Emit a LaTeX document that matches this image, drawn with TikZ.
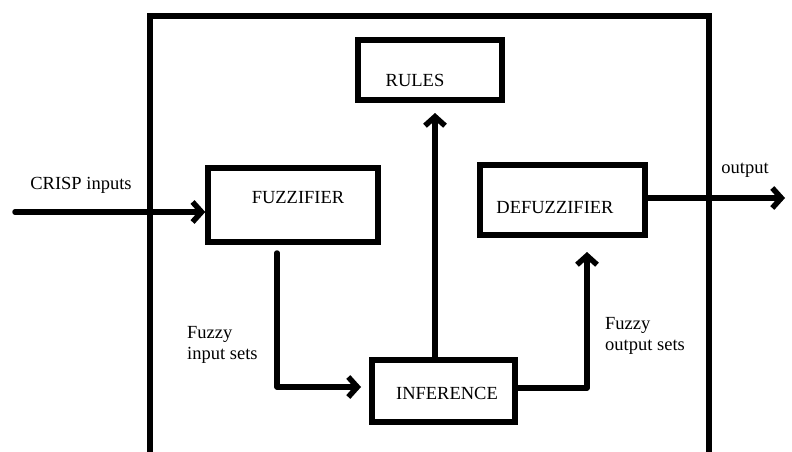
\documentclass[tikz,border=0pt]{standalone}
\usepackage{fontspec}
\setmainfont{Liberation Serif}
\usetikzlibrary{arrows.meta}
\begin{document}
\begin{tikzpicture}[x=1pt,y=-1pt,
  blk/.style={draw,line width=5.5pt,inner sep=0pt},
  lbl/.style={font=\fontsize{18.5}{21}\selectfont,inner sep=0pt},
  conn/.style={line width=5.5pt,line cap=round,line join=round,
    -{Straight Barb[length=9pt,width=20pt]}},
  plain/.style={line width=5pt,line cap=round,line join=round}]
\useasboundingbox (0,0) rectangle (792,452);
\fill[white] (0,0) rectangle (792,452);
% outer frame
\draw[line width=5.5pt,line join=miter] (150,460) -- (150,16) -- (709,16) -- (709,460);
% boxes
\node[blk,minimum width=144pt,minimum height=60pt] (rules) at (430,70) {};
\node[blk,minimum width=170pt,minimum height=74pt] (fuzz) at (293,205) {};
\node[blk,minimum width=165pt,minimum height=70pt] (defuzz) at (562.5,200) {};
\node[blk,minimum width=143pt,minimum height=62pt] (inf) at (443.5,391) {};
% box texts
\node[lbl] (trules) at (415,80) {RULES};
\node[lbl] (tfuzz) at (298,198) {FUZZIFIER};
\node[lbl] (tdefuzz) at (555,208) {DEFUZZIFIER};
\node[lbl] (tinf) at (447,393) {INFERENCE};
% free labels
\node[lbl] (crisp) at (81,185) {CRISP inputs};
\node[lbl] (outl) at (745,170) {output};
\node[lbl,align=left,anchor=west] (fis) at (187,345) {Fuzzy\\input sets};
\node[lbl,align=left,anchor=west] (fos) at (605,336) {Fuzzy\\output sets};
% coordinates
\coordinate (in) at (15,212);
\coordinate (f1) at (277,253);
\coordinate (f2) at (277,387);
\coordinate (f3) at (361,387);
\coordinate (r1) at (435,357);
\coordinate (r2) at (435,113);
\coordinate (d1) at (515,388);
\coordinate (d2) at (587,388);
\coordinate (d3) at (587,252);
\coordinate (o1) at (785,198);
% connectors
\draw[conn] (in) -- (in -| fuzz.west);
\draw[conn] (f1) -- (f2) -- (f3);
\draw[conn] (r1) -- (r2);
\draw[conn] (d1) -- (d2) -- (d3);
\draw[conn] (defuzz.east |- o1) -- (o1);
\end{tikzpicture}
\end{document}
